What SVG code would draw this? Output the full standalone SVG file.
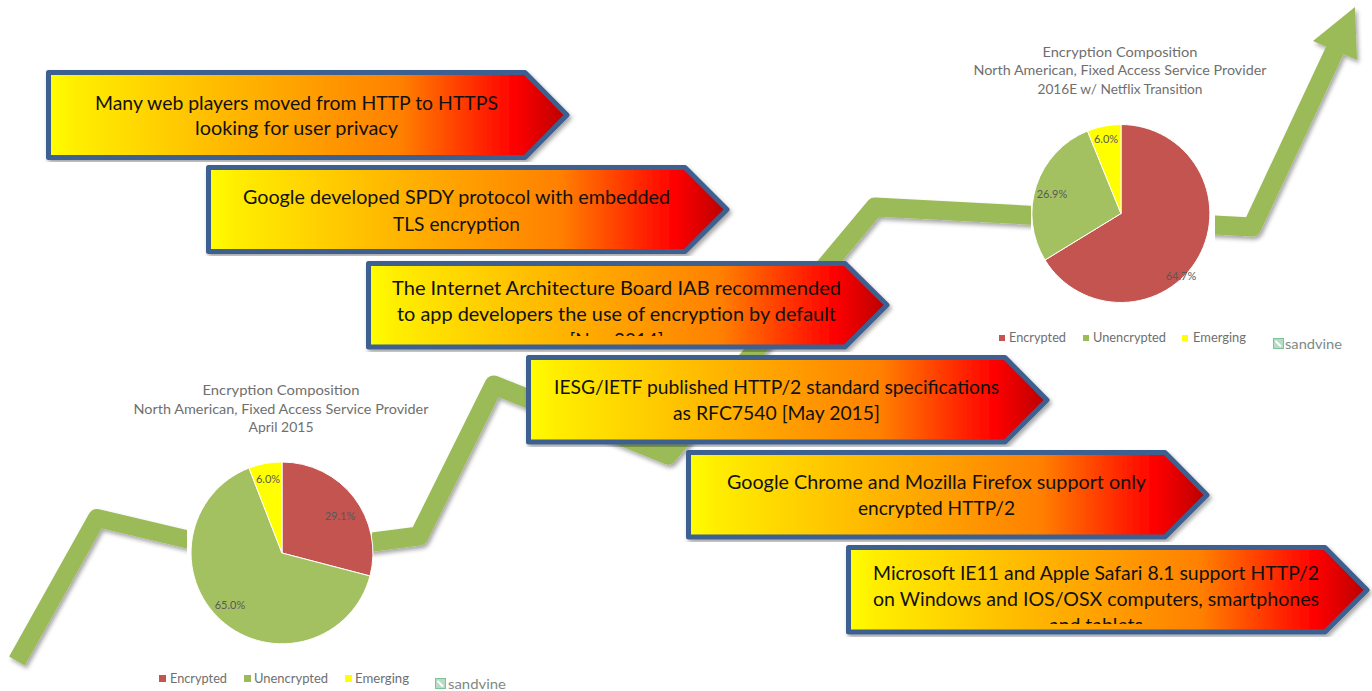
<svg xmlns="http://www.w3.org/2000/svg" width="1372" height="691" viewBox="0 0 1372 691">
<style>
.box{stroke:#3c6090;stroke-width:5;stroke-linejoin:round;fill:url(#g)}
.t{font-family:"Lato","Liberation Sans",sans-serif;font-size:20px;fill:#111;text-anchor:middle}
.c{font-family:"Lato","Liberation Sans",sans-serif;font-size:13px;fill:#6f6f6f;text-anchor:middle}
.l{font-family:"Lato","Liberation Sans",sans-serif;font-size:12.5px;fill:#6f6f6f}
.d{font-family:"Lato","Liberation Sans",sans-serif;font-size:11px;fill:#595959;text-anchor:middle}
.s{font-family:"Lato","Liberation Sans",sans-serif;font-size:14px;fill:#7d8a86}
.r{fill:#c4544f;stroke:#fff;stroke-width:1}
.n{fill:#a4c162;stroke:#fff;stroke-width:1}
.y{fill:#ffff00;stroke:#fff;stroke-width:1}
.ic{fill:#b5dcc4;stroke:#7fc39b}
.ic2{fill:none;stroke:#fff;stroke-width:2}
</style>
<defs>
<linearGradient id="g" x1="0" y1="0" x2="1" y2="0">
<stop offset="0" stop-color="#ffff00"/><stop offset="0.05" stop-color="#ffee00"/><stop offset="0.3" stop-color="#ffc000"/><stop offset="0.68" stop-color="#ff8000"/><stop offset="0.9" stop-color="#ff0000"/><stop offset="1" stop-color="#b80000"/>
</linearGradient>
<filter id="sh" x="-5%" y="-5%" width="110%" height="110%"><feDropShadow dx="2" dy="3" stdDeviation="2" flood-color="#000" flood-opacity="0.35"/></filter>
<clipPath id="c3"><rect x="366" y="261" width="523" height="75"/></clipPath>
<clipPath id="c6"><rect x="846" y="545" width="523" height="79"/></clipPath>
</defs>
<rect width="1372" height="691" fill="#fff"/>
<g id="connectors" filter="url(#sh)">
<polyline points="17,661 97,518 190,540" fill="none" stroke="#9bbb59" stroke-width="18" stroke-linejoin="round"/>
<polyline points="365,543 419,536 494,385 668,455 875,207 1252,227 1335,50" fill="none" stroke="#9bbb59" stroke-width="19" stroke-linejoin="round"/>
<polygon points="1355,7 1313,41 1357,60" fill="#9bbb59"/>
</g>
<g id="chart-2015">
<rect x="187" y="460" width="185" height="190" fill="#fff"/>
<path class="r" d="M282,553V462A91,91 0 0 1 370,576Z"/>
<path class="n" d="M282,553L370,576A91,91 0 1 1 249,468Z"/>
<path class="y" d="M282,553L249,468A91,91 0 0 1 282,462Z"/>
<text class="c" x="281" y="395" textLength="157" lengthAdjust="spacingAndGlyphs">Encryption Composition</text>
<text class="c" x="281" y="414" textLength="295" lengthAdjust="spacingAndGlyphs">North American, Fixed Access Service Provider</text>
<text class="c" x="281" y="432" textLength="65" lengthAdjust="spacingAndGlyphs">April 2015</text>
<text class="d" x="340" y="520">29.1%</text>
<text class="d" x="268" y="483">6.0%</text>
<text class="d" x="230" y="609">65.0%</text>
<rect x="159" y="675" width="7" height="7" fill="#c4544f"/><text class="l" x="170" y="683" textLength="57" lengthAdjust="spacingAndGlyphs">Encrypted</text>
<rect x="244" y="675" width="7" height="7" fill="#9bbb59"/><text class="l" x="254" y="683" textLength="74" lengthAdjust="spacingAndGlyphs">Unencrypted</text>
<rect x="345" y="675" width="7" height="7" fill="#ffff00"/><text class="l" x="355" y="683" textLength="54" lengthAdjust="spacingAndGlyphs">Emerging</text>
<rect class="ic" x="435.500" y="678.500" width="10" height="10"/><path class="ic2" d="M437.500,681L443,686.500"/>
<text class="s" x="448" y="689" textLength="58" lengthAdjust="spacingAndGlyphs">sandvine</text>
</g>
<g id="chart-2016">
<rect x="1031" y="120" width="184" height="190" fill="#fff"/>
<path class="r" d="M1121,213.500V124.500A89,89 0 1 1 1045,260Z"/>
<path class="n" d="M1121,213.500L1045,260A89,89 0 0 1 1087.500,131Z"/>
<path class="y" d="M1121,213.500L1087.500,131A89,89 0 0 1 1121,124.500Z"/>
<text class="c" x="1120" y="57" textLength="155" lengthAdjust="spacingAndGlyphs">Encryption Composition</text>
<text class="c" x="1120" y="75" textLength="293" lengthAdjust="spacingAndGlyphs">North American, Fixed Access Service Provider</text>
<text class="c" x="1120" y="94" textLength="165" lengthAdjust="spacingAndGlyphs">2016E w/ Netflix Transition</text>
<text class="d" x="1181" y="280">64.7%</text>
<text class="d" x="1052" y="198">26.9%</text>
<text class="d" x="1106" y="143">6.0%</text>
<rect x="999" y="335" width="6" height="6" fill="#c4544f"/><text class="l" x="1009" y="342" textLength="57" lengthAdjust="spacingAndGlyphs">Encrypted</text>
<rect x="1083" y="335" width="6" height="6" fill="#9bbb59"/><text class="l" x="1093" y="342" textLength="73" lengthAdjust="spacingAndGlyphs">Unencrypted</text>
<rect x="1182" y="335" width="6" height="6" fill="#ffff00"/><text class="l" x="1193" y="342" textLength="53" lengthAdjust="spacingAndGlyphs">Emerging</text>
<rect class="ic" x="1273.500" y="338.500" width="10" height="10"/><path class="ic2" d="M1275.500,341L1281,346.500"/>
<text class="s" x="1285" y="349" textLength="57" lengthAdjust="spacingAndGlyphs">sandvine</text>
</g>
<g id="step-1">
<path class="box" filter="url(#sh)" d="M48.500,72.500H525L567,115L525,157.500H48.500Z"/>
<text class="t" x="296.500" y="110" textLength="403" lengthAdjust="spacingAndGlyphs">Many web players moved from HTTP to HTTPS</text>
<text class="t" x="296.500" y="135" textLength="203" lengthAdjust="spacingAndGlyphs">looking for user privacy</text>
</g>
<g id="step-2">
<path class="box" filter="url(#sh)" d="M208.500,167.500H685L727,209.500L685,251.500H208.500Z"/>
<text class="t" x="456.500" y="204" textLength="427" lengthAdjust="spacingAndGlyphs">Google developed SPDY protocol with embedded</text>
<text class="t" x="456.500" y="231" textLength="127" lengthAdjust="spacingAndGlyphs">TLS encryption</text>
</g>
<g id="step-3">
<path class="box" filter="url(#sh)" d="M368.500,263.500H845L887,305L845,347H368.500Z"/>
<g clip-path="url(#c3)">
<text class="t" x="616.500" y="295" textLength="449" lengthAdjust="spacingAndGlyphs">The Internet Architecture Board  IAB recommended</text>
<text class="t" x="616.500" y="321" textLength="439" lengthAdjust="spacingAndGlyphs">to app developers the use of encryption by default</text>
<text class="t" x="616.500" y="347" textLength="94" lengthAdjust="spacingAndGlyphs">[Nov 2014]</text>
</g>
</g>
<g id="step-4">
<path class="box" filter="url(#sh)" d="M528.500,357.500H1005L1047,400L1005,442H528.500Z"/>
<text class="t" x="776.500" y="394" textLength="445" lengthAdjust="spacingAndGlyphs">IESG/IETF published HTTP/2 standard specifications</text>
<text class="t" x="776.500" y="420" textLength="207" lengthAdjust="spacingAndGlyphs">as RFC7540  [May 2015]</text>
</g>
<g id="step-5">
<path class="box" filter="url(#sh)" d="M688.500,452.500H1165L1207,495L1165,537H688.500Z"/>
<text class="t" x="936.500" y="489" textLength="419" lengthAdjust="spacingAndGlyphs">Google Chrome and Mozilla Firefox support only</text>
<text class="t" x="936.500" y="515" textLength="157" lengthAdjust="spacingAndGlyphs">encrypted HTTP/2</text>
</g>
<g id="step-6">
<path class="box" filter="url(#sh)" d="M848.500,547.500H1325L1367,590L1325,632H848.500Z"/>
<g clip-path="url(#c6)">
<text class="t" x="1096" y="580" textLength="446" lengthAdjust="spacingAndGlyphs">Microsoft IE11 and Apple Safari 8.1 support HTTP/2</text>
<text class="t" x="1096" y="606" textLength="446" lengthAdjust="spacingAndGlyphs">on Windows and IOS/OSX computers, smartphones</text>
<text class="t" x="1096" y="632" textLength="94" lengthAdjust="spacingAndGlyphs">and tablets</text>
</g>
</g>
</svg>
